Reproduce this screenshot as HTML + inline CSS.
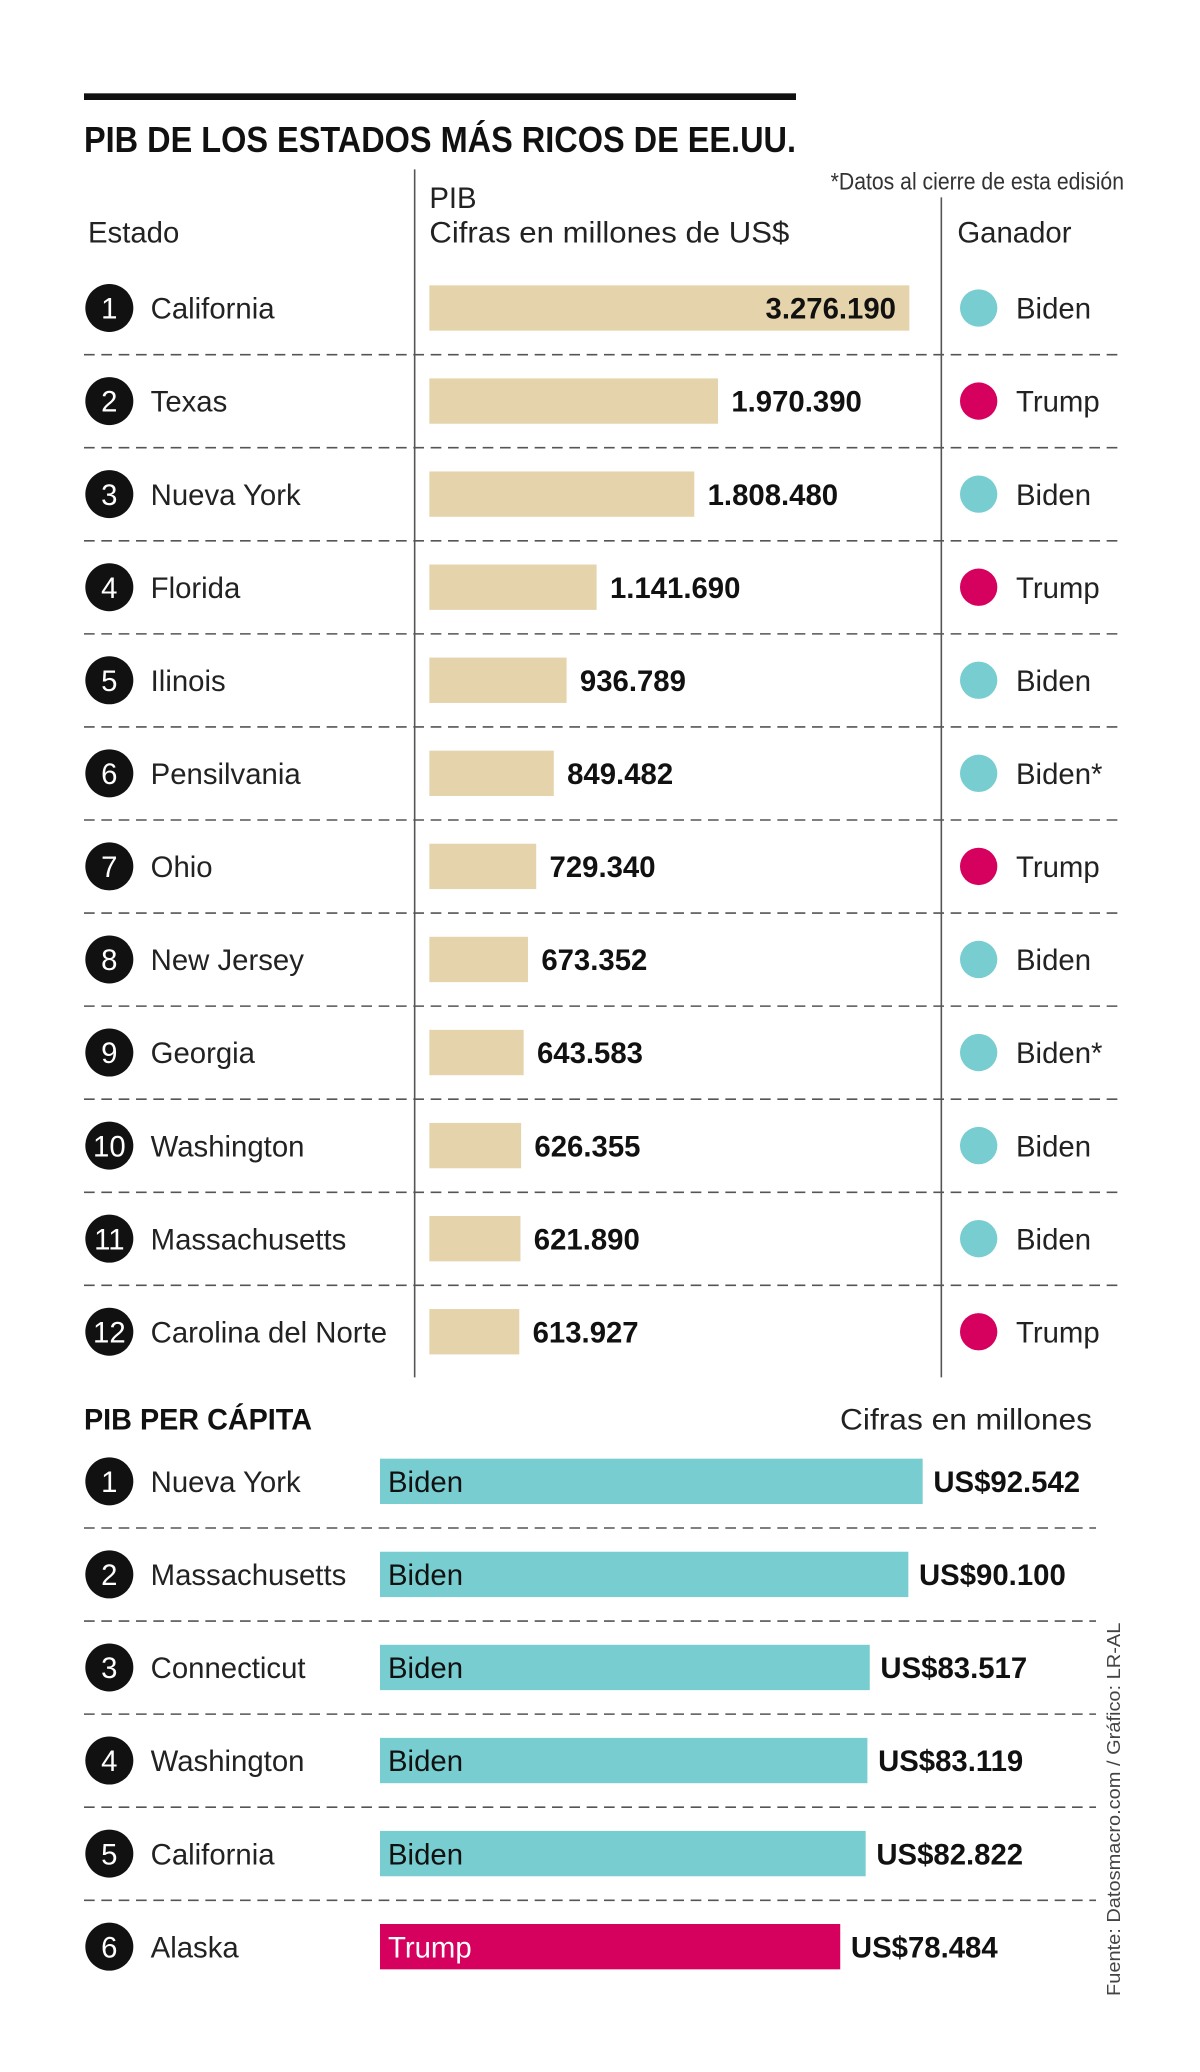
<!DOCTYPE html>
<html><head><meta charset="utf-8"><style>
html,body{margin:0;padding:0;background:#fff;}
svg{display:block;}
text{font-family:"Liberation Sans Narrow","Liberation Sans",sans-serif;}
</style></head><body>
<svg id="chart" width="1200" height="2072" viewBox="0 0 900 1554" xmlns="http://www.w3.org/2000/svg">
<rect x="63" y="70" width="534" height="5" fill="#111"/>
<text x="63" y="114" font-size="27" font-weight="bold" fill="#111" textLength="534" lengthAdjust="spacingAndGlyphs">PIB DE LOS ESTADOS MÁS RICOS DE EE.UU.</text>
<text x="843" y="142" font-size="18" fill="#333" text-anchor="end" textLength="220" lengthAdjust="spacingAndGlyphs">*Datos al cierre de esta edisión</text>
<text x="66" y="182" font-size="22" fill="#222">Estado</text>
<text x="322" y="156" font-size="22" fill="#222">PIB</text>
<text x="322" y="182" font-size="22" fill="#222" textLength="270" lengthAdjust="spacingAndGlyphs">Cifras en millones de US$</text>
<text x="718" y="182" font-size="22" fill="#222">Ganador</text>
<line x1="311" y1="127" x2="311" y2="1033" stroke="#555" stroke-width="1.2"/>
<line x1="706" y1="148" x2="706" y2="1033" stroke="#555" stroke-width="1.2"/>
<g id="g1"></g>
<text x="63" y="1072" font-size="22" font-weight="bold" fill="#111" textLength="171" lengthAdjust="spacingAndGlyphs">PIB PER CÁPITA</text>
<text x="819" y="1072" font-size="22" fill="#222" text-anchor="end" textLength="189" lengthAdjust="spacingAndGlyphs">Cifras en millones</text>
<g id="g2"></g>
<text transform="translate(840,1497) rotate(-90)" font-size="14" fill="#444" textLength="280" lengthAdjust="spacingAndGlyphs">Fuente: Datosmacro.com / Gráfico: LR-AL</text>
</svg>
<script>
const states = ["California","Texas","Nueva York","Florida","Ilinois","Pensilvania","Ohio","New Jersey","Georgia","Washington","Massachusetts","Carolina del Norte"];
const gdp = [3276190,1970390,1808480,1141690,936789,849482,729340,673352,643583,626355,621890,613927];
const gdpLabels = ["3.276.190","1.970.390","1.808.480","1.141.690","936.789","849.482","729.340","673.352","643.583","626.355","621.890","613.927"];
const winners = ["Biden","Trump","Biden","Trump","Biden","Biden*","Trump","Biden","Biden*","Biden","Biden","Trump"];
const pcStates = ["Nueva York","Massachusetts","Connecticut","Washington","California","Alaska"];
const pcValues = [92542,90100,83517,83119,82822,78484];
const pcLabels = ["US$92.542","US$90.100","US$83.517","US$83.119","US$82.822","US$78.484"];
const pcWinners = ["Biden","Biden","Biden","Biden","Biden","Trump"];

const NS="http://www.w3.org/2000/svg";
const TEAL="#78cdd0", MAG="#d6005f", TAN="#e5d3ab";
function mk(parent,tag,attrs,txt){const e=document.createElementNS(NS,tag);for(const k in attrs)e.setAttribute(k,attrs[k]);if(txt!==undefined)e.textContent=txt;parent.appendChild(e);return e;}
const xGdp=v=>v/3276190*360;
const xPc=v=>v/92542*407;
const g1=document.getElementById('g1');
states.forEach((s,i)=>{
  const cy=231+i*69.8;
  let c=mk(g1,'circle',{cx:82,cy:cy,r:18,fill:'#111'});
  
  
  let n=mk(g1,'text',{x:82,y:cy+8,'font-size':22,fill:'#fff','text-anchor':'middle'},String(i+1));
  
  
  let t=mk(g1,'text',{x:113,y:cy+8,'font-size':22,fill:'#222'},s);
  
  
  const w=xGdp(gdp[i]);
  let b=mk(g1,'rect',{x:322,y:cy-17,width:w,height:34,fill:TAN});
  
  
  const inside=i===0;
  let v=mk(g1,'text',{x:inside?322+w-10:322+w+10,y:cy+8,'font-size':22,'font-weight':'bold',fill:'#111','text-anchor':inside?'end':'start'},gdpLabels[i]);
  
  
  const trump=winners[i].startsWith('Trump');
  let d=mk(g1,'circle',{cx:734,cy:cy,r:14,fill:trump?MAG:TEAL});
  
  
  let wt=mk(g1,'text',{x:762,y:cy+8,'font-size':22,fill:'#222'},winners[i]);
  
  
  if(i<states.length-1){
    let l=mk(g1,'line',{x1:63,x2:838,y1:cy+35,y2:cy+35,stroke:'#555','stroke-width':1.2,'stroke-dasharray':'8 5'});
    
    
  }
});
const g2=document.getElementById('g2');
pcStates.forEach((s,i)=>{
  const cy=1111+i*69.8;
  let c=mk(g2,'circle',{cx:82,cy:cy,r:18,fill:'#111'});
  
  
  let n=mk(g2,'text',{x:82,y:cy+8,'font-size':22,fill:'#fff','text-anchor':'middle'},String(i+1));
  
  
  let t=mk(g2,'text',{x:113,y:cy+8,'font-size':22,fill:'#222'},s);
  
  
  const w=xPc(pcValues[i]);
  const trump=pcWinners[i]==='Trump';
  let b=mk(g2,'rect',{x:285,y:cy-17,width:w,height:34,fill:trump?MAG:TEAL});
  
  
  let bl=mk(g2,'text',{x:291,y:cy+8,'font-size':22,fill:trump?'#fff':'#111'},pcWinners[i]);
  
  
  let v=mk(g2,'text',{x:285+w+8,y:cy+8,'font-size':22,'font-weight':'bold',fill:'#111'},pcLabels[i]);
  
  
  if(i<pcStates.length-1){
    let l=mk(g2,'line',{x1:63,x2:822,y1:cy+35,y2:cy+35,stroke:'#555','stroke-width':1.2,'stroke-dasharray':'8 5'});
    
    
  }
});
</script>
</body></html>
